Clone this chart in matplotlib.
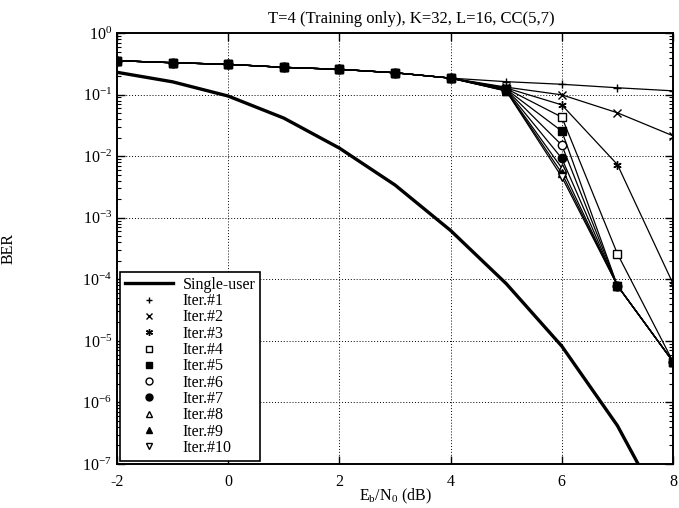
import numpy as np
import matplotlib
matplotlib.use("Agg")
import matplotlib.pyplot as plt
from matplotlib.ticker import FixedLocator, LogFormatterSciNotation, NullFormatter

plt.rcParams['font.family'] = ['Liberation Serif', 'DejaVu Serif']
plt.rcParams['mathtext.fontset'] = 'custom'
plt.rcParams['mathtext.rm'] = 'Liberation Serif'
plt.rcParams['mathtext.it'] = 'Liberation Serif:italic'
plt.rcParams['mathtext.default'] = 'regular'
plt.rcParams['axes.unicode_minus'] = False

title = "T=4 (Training only), K=32, L=16, CC(5,7)"
x_db = [-2, -1, 0, 1, 2, 3, 4, 5, 6, 7, 8]
x_ticks = [-2, 0, 2, 4, 6, 8]
y_ticks = [1e-7, 1e-6, 1e-5, 1e-4, 1e-3, 1e-2, 1e-1, 1]

single_user = [0.23, 0.161, 0.0946, 0.0415, 0.0135, 0.0034, 6.2e-4, 8.5e-5, 8.2e-6, 4.2e-7, 9e-9]

common = [0.355, 0.329, 0.31, 0.277, 0.257, 0.226, 0.185]
iter_tail = {
    "Iter.#1":  [0.162, 0.147, 0.129, 0.115],
    "Iter.#2":  [0.132, 0.099, 0.0506, 0.0214],
    "Iter.#3":  [0.128, 0.068, 0.0073, 8.5e-5],
    "Iter.#4":  [0.125, 0.043, 2.6e-4, 4.6e-6],
    "Iter.#5":  [0.122, 0.0255, 7.9e-5, 4.6e-6],
    "Iter.#6":  [0.12, 0.0151, 7.9e-5, 4.6e-6],
    "Iter.#7":  [0.118, 0.0092, 7.9e-5, 4.6e-6],
    "Iter.#8":  [0.116, 0.0064, 7.9e-5, 4.6e-6],
    "Iter.#9":  [0.115, 0.0053, 7.9e-5, 4.6e-6],
    "Iter.#10": [0.114, 0.0046, 7.9e-5, 4.6e-6],
}
markers = {
    "Iter.#1": ('+', 'none'),
    "Iter.#2": ('x', 'none'),
    "Iter.#3": ((6, 2, 0), 'none'),
    "Iter.#4": ('s', 'white'),
    "Iter.#5": ('s', 'black'),
    "Iter.#6": ('o', 'white'),
    "Iter.#7": ('o', 'black'),
    "Iter.#8": ('^', 'white'),
    "Iter.#9": ('^', 'black'),
    "Iter.#10": ('v', 'white'),
}

fig = plt.figure(figsize=(6.79, 5.08), dpi=100)
L, R, T, B = 117, 673, 33, 464
ax = fig.add_axes([L/679, 1-B/508, (R-L)/679, (B-T)/508])

sline, = ax.plot(x_db, single_user, color='black', lw=2.4, label='Single-user', zorder=5)

handles = []
for name, tail in iter_tail.items():
    m, fc = markers[name]
    vals = common + tail
    z = 4.5 if name == "Iter.#5" else 4
    ax.plot(x_db, vals, color='black', lw=0.9, marker=m, markerfacecolor=fc,
            markeredgecolor='black', markersize=6, markeredgewidth=1.0, zorder=z)
    h, = ax.plot([], [], linestyle='none', marker=m, markerfacecolor=fc,
                 markeredgecolor='black', markersize=5, markeredgewidth=1.0, label=name)
    handles.append(h)

ax.set_yscale('log')
ax.set_xlim(-2, 8)
ax.set_ylim(1e-7, 1)
ax.xaxis.set_major_locator(FixedLocator(x_ticks))
ax.yaxis.set_major_locator(FixedLocator(y_ticks))
ax.yaxis.set_major_formatter(LogFormatterSciNotation())
minor = [k * d for d in y_ticks[:-1] for k in range(2, 10)]
ax.yaxis.set_minor_locator(FixedLocator(minor))
ax.yaxis.set_minor_formatter(NullFormatter())
ax.tick_params(which='both', direction='in', top=True, right=True, labelsize=11.5, colors='black')
ax.tick_params(which='major', length=6, width=1)
ax.tick_params(which='minor', length=3, width=0.8)
ax.tick_params(axis='x', pad=7)
ax.grid(True, which='major', linestyle=(0, (1, 2)), color='black', linewidth=0.7)
for s in ax.spines.values():
    s.set_linewidth(1.4)

ax.set_title(title, fontsize=12, pad=7, x=0.53)
ax.set_xlabel(r'E$_b$/N$_0$ (dB)', fontsize=11.5, labelpad=-2)
ax.set_ylabel('BER', fontsize=11.5)
ax.yaxis.set_label_coords(-(L-17)/(R-L), 0.5)

leg = ax.legend([sline] + handles, ['Single-user'] + list(iter_tail.keys()),
                loc='lower left', fontsize=11.5, frameon=True, fancybox=False,
                framealpha=1, edgecolor='black', handlelength=3.0, handletextpad=0.6,
                labelspacing=0.02, borderaxespad=0.2, borderpad=0.3)
leg.get_frame().set_linewidth(1.2)

fig.savefig('out.png', dpi=100)
